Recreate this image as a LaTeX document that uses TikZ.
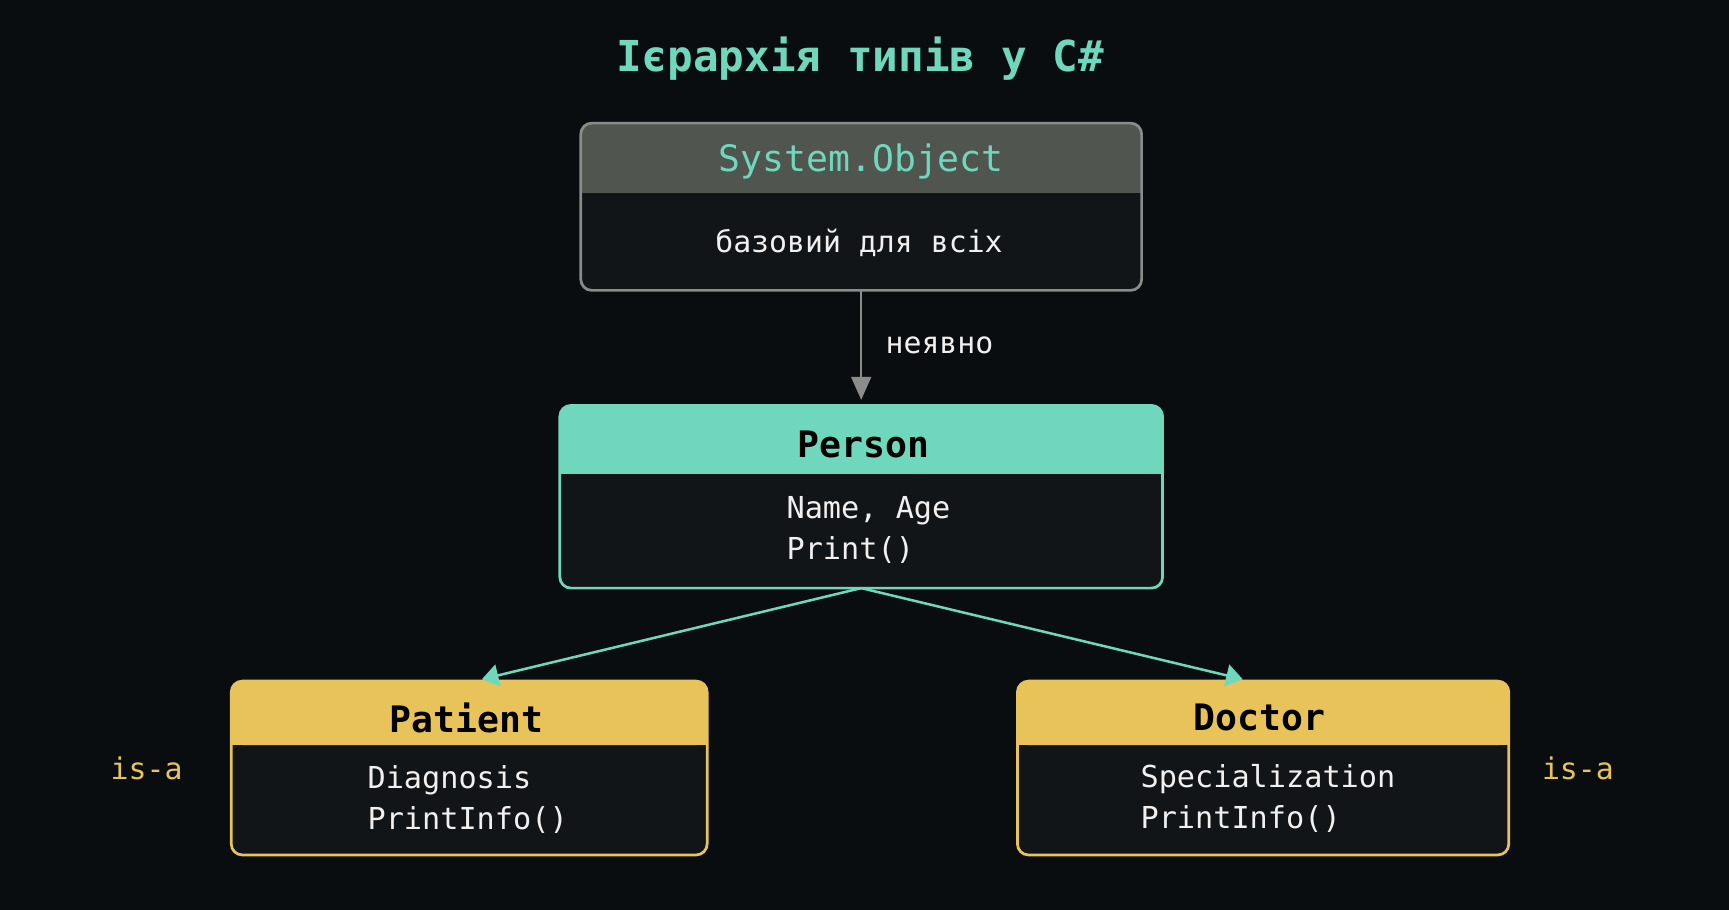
\documentclass[tikz,border=0pt]{standalone}
\usepackage{fontspec}
\setmonofont{DejaVu Sans Mono}
\usetikzlibrary{arrows.meta}
\definecolor{bg}{HTML}{0A0D10}
\definecolor{bodyc}{HTML}{111518}
\definecolor{teal}{HTML}{6FD8BC}
\definecolor{hgray}{HTML}{50554F}
\definecolor{bgray}{HTML}{8A8C8A}
\definecolor{yel}{HTML}{E8C35A}
\definecolor{txt}{HTML}{F0F0F0}
\begin{document}
\begin{tikzpicture}[x=0.02cm,y=-0.02cm,
  boxbody/.style={fill=bodyc,rounded corners=0.2cm,inner sep=0pt},
  lbl/.style={font=\ttfamily\fontsize{15.4}{19}\selectfont,text=txt,inner sep=0pt},
  hdr/.style={font=\ttfamily\bfseries\fontsize{18.8}{22}\selectfont,text=black,inner sep=0pt}]
\fill[bg] (0,0) rectangle (1568,825);
\useasboundingbox (0,0) rectangle (1568,825);
\node[font=\ttfamily\bfseries\fontsize{22}{26}\selectfont,text=teal] (title) at (780,53) {Ієрархія типів у C\#};
% boxes
\node[boxbody,minimum width=10.16cm,minimum height=3.02cm] (so) at (781,187.5) {};
\node[boxbody,minimum width=10.92cm,minimum height=3.3cm] (pe) at (781,450.5) {};
\node[boxbody,minimum width=8.62cm,minimum height=3.14cm] (pa) at (425.5,696.5) {};
\node[boxbody,minimum width=8.9cm,minimum height=3.14cm] (dr) at (1145.5,696.5) {};
\foreach \n/\h/\c in {so/1.26/hgray,pe/1.24/teal,pa/1.16/yel,dr/1.16/yel}{
  \fill[\c,rounded corners=0.2cm] (\n.north west) rectangle ([yshift=-\h cm]\n.north east);
  \fill[\c] ([yshift=-0.5cm]\n.north west) rectangle ([yshift=-\h cm]\n.north east);
}
\draw[bgray,line width=1.4pt,rounded corners=0.2cm] (so.north west) rectangle (so.south east);
\draw[teal,line width=1.4pt,rounded corners=0.2cm] (pe.north west) rectangle (pe.south east);
\draw[yel,line width=1.4pt,rounded corners=0.2cm] (pa.north west) rectangle (pa.south east);
\draw[yel,line width=1.4pt,rounded corners=0.2cm] (dr.north west) rectangle (dr.south east);
% texts
\node[hdr,text=teal,font=\ttfamily\fontsize{18.8}{22}\selectfont] (soh) at (781,146) {System.Object};
\node[lbl] (sob) at (779,220) {базовий для всіх};
\node[hdr] (peh) at (783,403) {Person};
\node[lbl,align=left,anchor=west,font=\ttfamily\fontsize{15.6}{21.2}\selectfont] (peb) at (713,481) {Name, Age\\Print()};
\node[hdr] (pah) at (423,651) {Patient};
\node[lbl,align=left,anchor=west,font=\ttfamily\fontsize{15.6}{21.2}\selectfont] (pab) at (333,725) {Diagnosis\\PrintInfo()};
\node[hdr] (drh) at (1142,651) {Doctor};
\node[lbl,align=left,anchor=west,font=\ttfamily\fontsize{15.6}{21.2}\selectfont] (drb) at (1034,724) {Specialization\\PrintInfo()};
\node[lbl,text=yel] (isa1) at (133,697) {is-a};
\node[lbl,text=yel] (isa2) at (1431,697) {is-a};
% arrows
\coordinate (ta) at (437,616);
\coordinate (tb) at (1127,616);
\draw[bgray,line width=1.3pt,-{Triangle[length=0.42cm,width=0.36cm]}] (so.south) -- ([yshift=0.1cm]pe.north) node[midway,right=0.42cm,lbl] (nev) {неявно};
\draw[teal,line width=1.3pt,-{Triangle[length=0.3cm,width=0.4cm]}] (pe.south) -- (ta);
\draw[teal,line width=1.3pt,-{Triangle[length=0.3cm,width=0.4cm]}] (pe.south) -- (tb);
\end{tikzpicture}
\end{document}
